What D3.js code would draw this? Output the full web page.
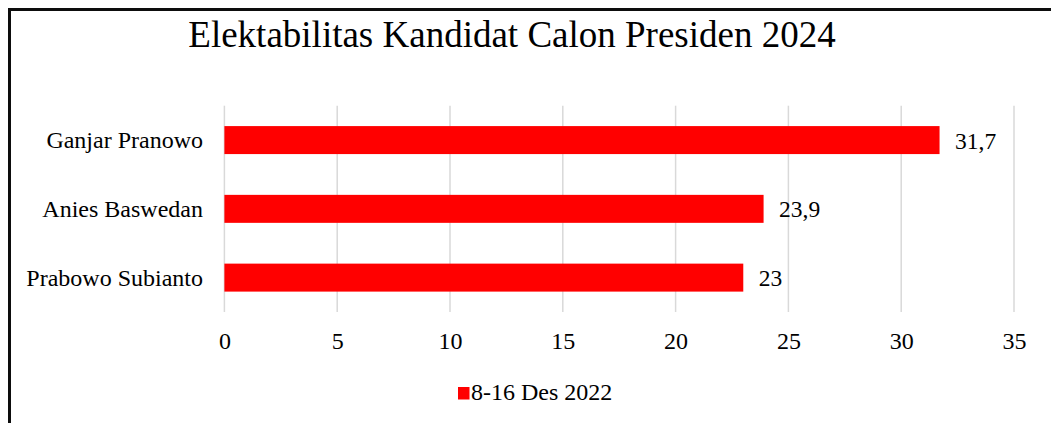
<!DOCTYPE html>
<html>
<head>
<meta charset="utf-8">
<script src="https://cdn.jsdelivr.net/npm/d3@7"></script>
<style>
  html, body { margin: 0; padding: 0; background: #fff; }
  svg { display: block; }
  text { font-family: "Liberation Serif", "Times New Roman", serif; fill: #000; }
</style>
</head>
<body>
<svg id="chart" width="1051" height="423"></svg>
<script>
// Survey data: electability of 2024 presidential candidates
const candidates = ["Ganjar Pranowo", "Anies Baswedan", "Prabowo Subianto"];
const electability = [31.7, 23.9, 23];
const valueLabels = ["31,7", "23,9", "23"];
const xTicks = [0, 5, 10, 15, 20, 25, 30, 35];
const seriesName = "8-16 Des 2022";
const chartTitle = "Elektabilitas Kandidat Calon Presiden 2024";
const captionText = "Tabel 1.1 Elektabilitas Kandidat Calon Presiden 2024";

const svg = d3.select("#chart");

// Caption of the document figure, sitting just above the frame
svg.append("text")
  .attr("x", 547).attr("y", 0.4)
  .attr("text-anchor", "middle")
  .style("font-family", "'Liberation Sans', Arial, sans-serif")
  .style("font-size", "25px")
  .style("fill", "#aaa")
  .text(captionText);

// Chart frame (top and left edges visible)
svg.append("path")
  .attr("d", "M9.5,423 V9.5 H1051")
  .attr("fill", "none")
  .attr("stroke", "#0d0d0d")
  .attr("stroke-width", 3);

const x = d3.scaleLinear().domain([0, 35]).range([224.4, 1014]);
const y = d3.scaleBand().domain(candidates).range([105.7, 312]).paddingInner(0.593).paddingOuter(0.2965);

// Vertical gridlines
svg.append("g")
  .selectAll("line")
  .data(xTicks)
  .join("line")
  .attr("x1", d => x(d)).attr("x2", d => x(d))
  .attr("y1", 105.7).attr("y2", 312)
  .attr("stroke", "#d9d9d9")
  .attr("stroke-width", 1.5);

// Tick labels via axis
const xAxis = svg.append("g")
  .attr("transform", "translate(0,312)")
  .call(d3.axisBottom(x).tickValues(xTicks).tickSize(0).tickPadding(0).tickFormat(d3.format("d")));
xAxis.select(".domain").remove();
xAxis.selectAll("text")
  .attr("y", 37).attr("dy", null)
  .style("font-size", "24px")
  .style("font-family", "'Liberation Serif', 'Times New Roman', serif");

// Category labels via axis
const yAxis = svg.append("g")
  .attr("transform", "translate(203,0)")
  .call(d3.axisLeft(y).tickSize(0).tickPadding(0));
yAxis.select(".domain").remove();
yAxis.selectAll("text")
  .attr("x", 0).attr("dy", "0.33em")
  .style("font-size", "24px")
  .style("font-family", "'Liberation Serif', 'Times New Roman', serif");

const rows = candidates.map((c, i) => ({ name: c, value: electability[i], label: valueLabels[i] }));

// Bars
svg.append("g")
  .selectAll("rect")
  .data(rows)
  .join("rect")
  .attr("x", x(0))
  .attr("y", d => y(d.name))
  .attr("width", d => x(d.value) - x(0))
  .attr("height", y.bandwidth())
  .attr("fill", "#ff0000");

// Value labels
svg.append("g")
  .selectAll("text")
  .data(rows)
  .join("text")
  .attr("x", d => x(d.value) + 15.5)
  .attr("y", d => y(d.name) + y.bandwidth() / 2)
  .attr("dy", "0.36em")
  .style("font-size", "23.5px")
  .text(d => d.label);

// Title
svg.append("text")
  .attr("x", 512).attr("y", 47)
  .attr("text-anchor", "middle")
  .style("font-size", "37px")
  .text(chartTitle);

// Legend
const legend = svg.append("g").attr("transform", "translate(458,387)");
legend.append("rect").attr("width", 11.5).attr("height", 12.5).attr("fill", "#ff0000");
legend.append("text")
  .attr("x", 13).attr("y", 13)
  .style("font-size", "24px")
  .text(seriesName);
</script>
</body>
</html>
